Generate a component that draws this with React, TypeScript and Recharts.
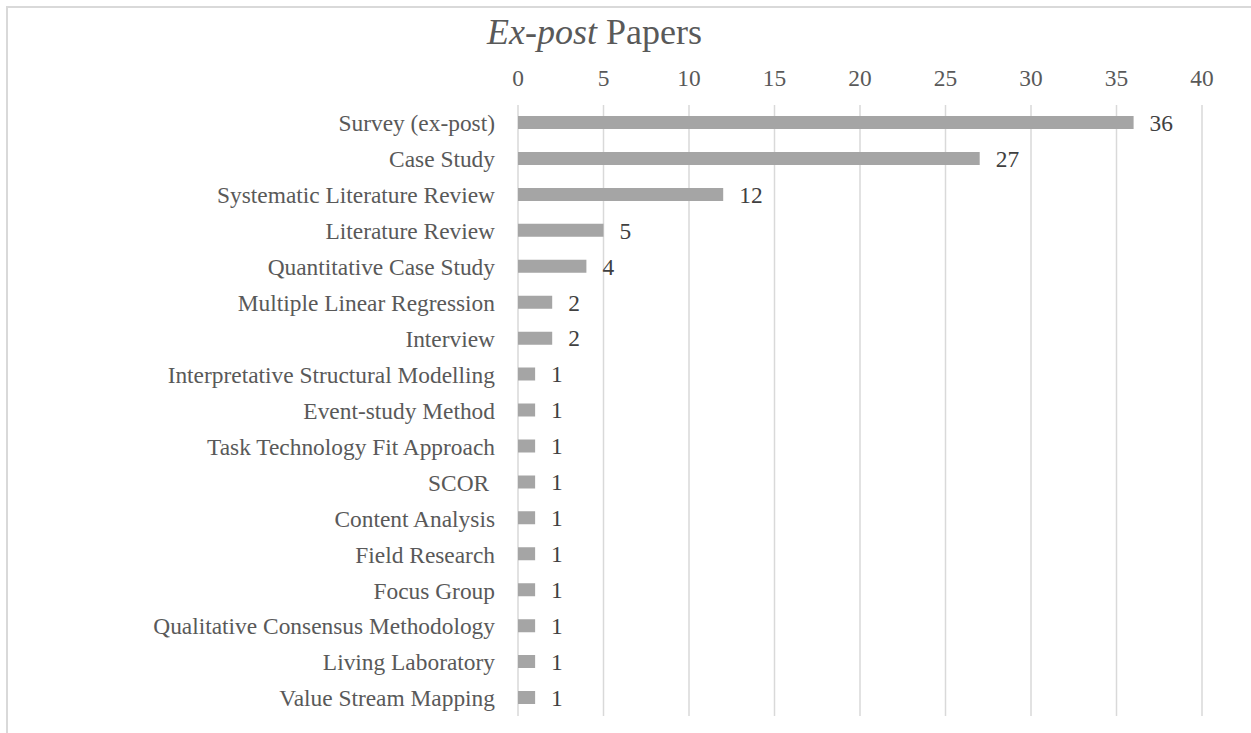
import React from 'react';
import { BarChart, Bar, XAxis, YAxis, CartesianGrid, LabelList } from 'recharts';

const categories: string[] = [
  'Survey (ex-post)',
  'Case Study',
  'Systematic Literature Review',
  'Literature Review',
  'Quantitative Case Study',
  'Multiple Linear Regression',
  'Interview',
  'Interpretative Structural Modelling',
  'Event-study Method',
  'Task Technology Fit Approach',
  'SCOR\u00A0',
  'Content Analysis',
  'Field Research',
  'Focus Group',
  'Qualitative Consensus Methodology',
  'Living Laboratory',
  'Value Stream Mapping',
];

const paperCounts: number[] = [36, 27, 12, 5, 4, 2, 2, 1, 1, 1, 1, 1, 1, 1, 1, 1, 1];

const xTicks: number[] = [0, 5, 10, 15, 20, 25, 30, 35, 40];

const data = categories.map((name, i) => ({ name, value: paperCounts[i] }));

const FONT = '"Liberation Serif", "Times New Roman", serif';

export default function App() {
  return (
    <div
      style={{
        position: 'absolute',
        left: 6,
        top: 6,
        width: 1243,
        height: 725,
        borderLeft: '2px solid #D9D9D9',
        borderTop: '2px solid #D9D9D9',
        background: '#fff',
        fontFamily: FONT,
      }}
    >
      <div
        style={{
          position: 'absolute',
          left: 479,
          top: 6,
          fontSize: 36,
          lineHeight: '36px',
          color: '#595959',
          whiteSpace: 'nowrap',
          fontFamily: FONT,
        }}
      >
        <i>Ex-post</i> Papers
      </div>
      <BarChart
        width={1243}
        height={725}
        data={data}
        layout="vertical"
        margin={{ top: 57, right: 49, bottom: 17, left: 0 }}
      >
        <CartesianGrid horizontal={false} stroke="#D9D9D9" strokeWidth={1.5} />
        <XAxis
          type="number"
          orientation="top"
          domain={[0, 40]}
          ticks={xTicks}
          height={40}
          axisLine={false}
          tickLine={false}
          tickSize={0}
          tickMargin={19}
          interval={0}
          tick={{ fill: '#595959', fontSize: 23.4, fontFamily: FONT }}
        />
        <YAxis
          type="category"
          dataKey="name"
          width={510}
          axisLine={false}
          tickLine={false}
          tickSize={0}
          tickMargin={23}
          interval={0}
          tick={{ fill: '#595959', fontSize: 23.4, fontFamily: FONT }}
        />
        <Bar dataKey="value" fill="#A5A5A5" barSize={13} isAnimationActive={false}>
          <LabelList
            dataKey="value"
            position="right"
            offset={16}
            fill="#404040"
            fontSize={23.4}
            fontFamily={FONT}
          />
        </Bar>
      </BarChart>
    </div>
  );
}
